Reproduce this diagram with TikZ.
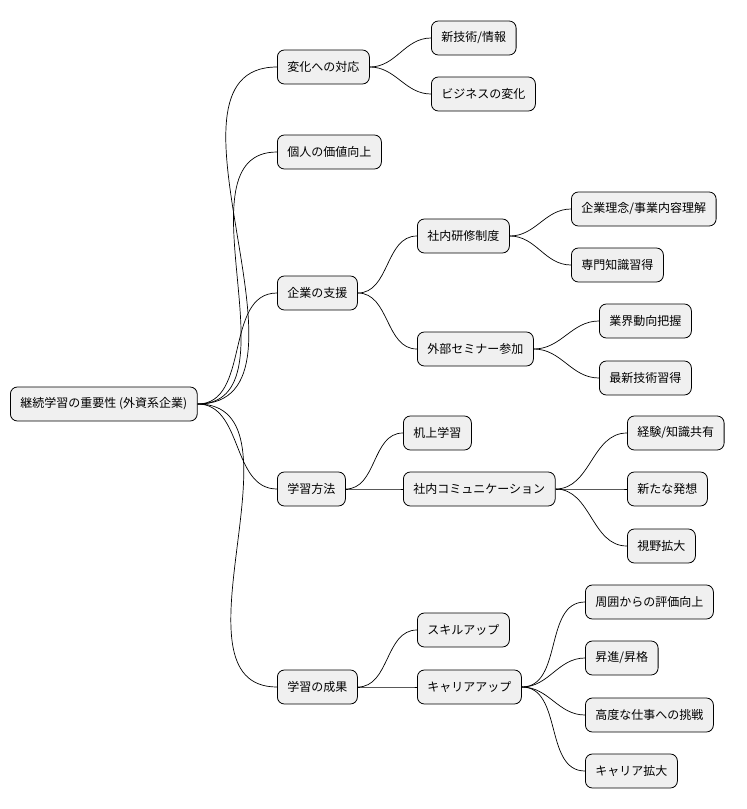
\documentclass[tikz,border=0pt]{standalone}
\usepackage{fontspec}
\setmainfont{Noto Sans CJK JP}
\begin{document}
\begin{tikzpicture}[x=1pt,y=-1pt,
  mm/.style={draw=black,line width=0.8pt,fill=black!6,rounded corners=7pt,minimum height=34pt,inner xsep=10pt,anchor=west,font=\fontsize{12}{14}\selectfont},
  lk/.style={draw=black,line width=0.7pt}]
\useasboundingbox (0,0) rectangle (747,809);
\node[mm] (r) at (10,404) {継続学習の重要性 (外資系企業)};
\node[mm] (a) at (277,67) {変化への対応};
\node[mm] (a1) at (431,38) {新技術/情報};
\node[mm] (a2) at (431,94) {ビジネスの変化};
\node[mm] (b) at (277,152) {個人の価値向上};
\node[mm] (c) at (277,293) {企業の支援};
\node[mm] (c1) at (417,236) {社内研修制度};
\node[mm] (c11) at (571,209) {企業理念/事業内容理解};
\node[mm] (c12) at (571,265) {専門知識習得};
\node[mm] (c2) at (417,349) {外部セミナー参加};
\node[mm] (c21) at (599,321) {業界動向把握};
\node[mm] (c22) at (599,378) {最新技術習得};
\node[mm] (d) at (277,489) {学習方法};
\node[mm] (d1) at (403,433) {机上学習};
\node[mm] (d2) at (403,489) {社内コミュニケーション};
\node[mm] (d21) at (627,433) {経験/知識共有};
\node[mm] (d22) at (627,489) {新たな発想};
\node[mm] (d23) at (627,546) {視野拡大};
\node[mm] (e) at (277,687) {学習の成果};
\node[mm] (e1) at (417,630) {スキルアップ};
\node[mm] (e2) at (417,687) {キャリアアップ};
\node[mm] (e21) at (585,602) {周囲からの評価向上};
\node[mm] (e22) at (585,658) {昇進/昇格};
\node[mm] (e23) at (585,715) {高度な仕事への挑戦};
\node[mm] (e24) at (585,771) {キャリア拡大};
\foreach \p/\c in {r/a,r/b,r/c,r/d,r/e,a/a1,a/a2,c/c1,c/c2,c1/c11,c1/c12,c2/c21,c2/c22,d/d1,d/d2,d2/d21,d2/d22,d2/d23,e/e1,e/e2,e2/e21,e2/e22,e2/e23,e2/e24}
  \draw[lk] (\p.east) to[out=0,in=180] (\c.west);
\end{tikzpicture}
\end{document}
